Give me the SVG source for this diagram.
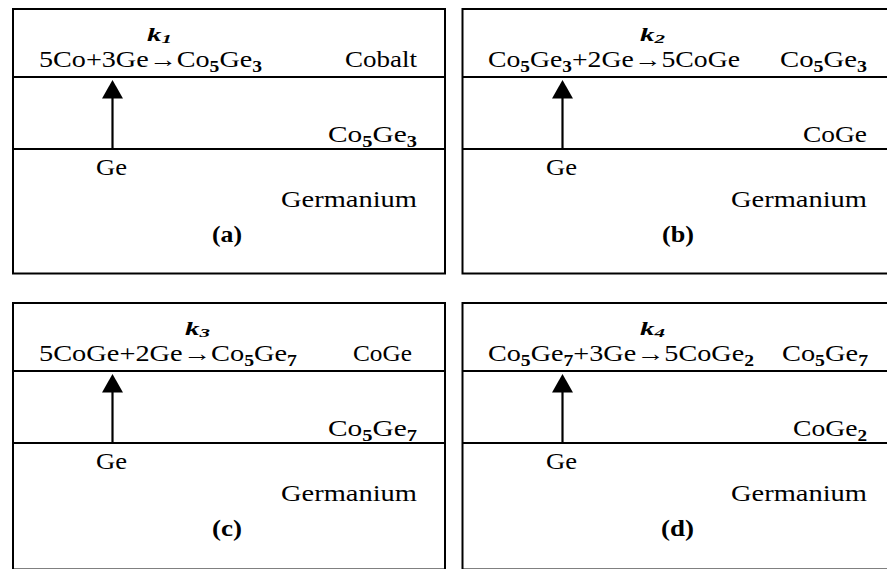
<svg xmlns="http://www.w3.org/2000/svg" width="887" height="569" viewBox="0 0 887 569">
  <defs>
    <style>
      .frame { fill: none; stroke: #000; stroke-width: 2; }
      .layer { stroke: #000; stroke-width: 2; }
      text { font-family: "Liberation Serif", "Times New Roman", serif; font-size: 23px; fill: #000; }
      .sub { font-size: 16px; font-weight: bold; }
      .k { font-size: 18px; font-weight: bold; font-style: italic; }
      .ksub { font-size: 13px; font-weight: bold; font-style: italic; }
      .tag { font-weight: bold; }
      .flux { stroke: #000; stroke-width: 2.2; fill: none; marker-end: url(#head); }
    </style>
    <marker id="head" markerUnits="userSpaceOnUse" markerWidth="19" markerHeight="21" viewBox="0 0 19 21" refX="0.5" refY="10.5" orient="auto">
      <path d="M0,0 L18.5,10.5 L0,21 Z" fill="#000"/>
    </marker>
  </defs>

  <!-- (a) Co + Ge -> Co5Ge3 -->
  <g id="panel-a">
    <rect class="frame" x="13" y="9" width="432" height="264.5"/>
    <line class="layer" x1="13" y1="77" x2="445" y2="77"/>
    <line class="layer" x1="13" y1="149" x2="445" y2="149"/>
    <text class="k" x="147" y="41" textLength="25" lengthAdjust="spacingAndGlyphs">k<tspan class="ksub" dy="2">1</tspan></text>
    <text x="39" y="67" textLength="223" lengthAdjust="spacingAndGlyphs">5Co+3Ge→Co<tspan class="sub" dy="5">5</tspan><tspan dy="-5">Ge</tspan><tspan class="sub" dy="5">3</tspan></text>
    <text x="345" y="67" textLength="72" lengthAdjust="spacingAndGlyphs">Cobalt</text>
    <text x="328" y="142" textLength="89" lengthAdjust="spacingAndGlyphs">Co<tspan class="sub" dy="5">5</tspan><tspan dy="-5">Ge</tspan><tspan class="sub" dy="5">3</tspan></text>
    <text x="96" y="175" textLength="31" lengthAdjust="spacingAndGlyphs">Ge</text>
    <text x="281" y="207" textLength="136" lengthAdjust="spacingAndGlyphs">Germanium</text>
    <text class="tag" x="212" y="242" textLength="30" lengthAdjust="spacingAndGlyphs">(a)</text>
  </g>

  <!-- (b) Co5Ge3 + Ge -> CoGe -->
  <g id="panel-b">
    <rect class="frame" x="462.5" y="9" width="432" height="264.5"/>
    <line class="layer" x1="462.5" y1="77" x2="895" y2="77"/>
    <line class="layer" x1="462.5" y1="149" x2="895" y2="149"/>
    <text class="k" x="640" y="41" textLength="25" lengthAdjust="spacingAndGlyphs">k<tspan class="ksub" dy="2">2</tspan></text>
    <text x="488" y="67" textLength="252" lengthAdjust="spacingAndGlyphs">Co<tspan class="sub" dy="5">5</tspan><tspan dy="-5">Ge</tspan><tspan class="sub" dy="5">3</tspan><tspan dy="-5">+2Ge→5CoGe</tspan></text>
    <text x="780" y="67" textLength="87" lengthAdjust="spacingAndGlyphs">Co<tspan class="sub" dy="5">5</tspan><tspan dy="-5">Ge</tspan><tspan class="sub" dy="5">3</tspan></text>
    <text x="803" y="142" textLength="64" lengthAdjust="spacingAndGlyphs">CoGe</text>
    <text x="546" y="175" textLength="31" lengthAdjust="spacingAndGlyphs">Ge</text>
    <text x="731" y="207" textLength="136" lengthAdjust="spacingAndGlyphs">Germanium</text>
    <text class="tag" x="662" y="242" textLength="32" lengthAdjust="spacingAndGlyphs">(b)</text>
  </g>

  <!-- (c) CoGe + Ge -> Co5Ge7 -->
  <g id="panel-c">
    <rect class="frame" x="13" y="303" width="432" height="266.5"/>
    <line class="layer" x1="13" y1="371" x2="445" y2="371"/>
    <line class="layer" x1="13" y1="443" x2="445" y2="443"/>
    <text class="k" x="185" y="335" textLength="25" lengthAdjust="spacingAndGlyphs">k<tspan class="ksub" dy="2">3</tspan></text>
    <text x="39" y="361" textLength="258" lengthAdjust="spacingAndGlyphs">5CoGe+2Ge→Co<tspan class="sub" dy="5">5</tspan><tspan dy="-5">Ge</tspan><tspan class="sub" dy="5">7</tspan></text>
    <text x="353" y="361" textLength="59" lengthAdjust="spacingAndGlyphs">CoGe</text>
    <text x="328" y="436" textLength="89" lengthAdjust="spacingAndGlyphs">Co<tspan class="sub" dy="5">5</tspan><tspan dy="-5">Ge</tspan><tspan class="sub" dy="5">7</tspan></text>
    <text x="96" y="469" textLength="31" lengthAdjust="spacingAndGlyphs">Ge</text>
    <text x="281" y="501" textLength="136" lengthAdjust="spacingAndGlyphs">Germanium</text>
    <text class="tag" x="212" y="536" textLength="30" lengthAdjust="spacingAndGlyphs">(c)</text>
  </g>

  <!-- (d) Co5Ge7 + Ge -> CoGe2 -->
  <g id="panel-d">
    <rect class="frame" x="462.5" y="303" width="432" height="266.5"/>
    <line class="layer" x1="462.5" y1="371" x2="895" y2="371"/>
    <line class="layer" x1="462.5" y1="443" x2="895" y2="443"/>
    <text class="k" x="640" y="335" textLength="25" lengthAdjust="spacingAndGlyphs">k<tspan class="ksub" dy="2">4</tspan></text>
    <text x="488" y="361" textLength="266" lengthAdjust="spacingAndGlyphs">Co<tspan class="sub" dy="5">5</tspan><tspan dy="-5">Ge</tspan><tspan class="sub" dy="5">7</tspan><tspan dy="-5">+3Ge→5CoGe</tspan><tspan class="sub" dy="5">2</tspan></text>
    <text x="782" y="361" textLength="86" lengthAdjust="spacingAndGlyphs">Co<tspan class="sub" dy="5">5</tspan><tspan dy="-5">Ge</tspan><tspan class="sub" dy="5">7</tspan></text>
    <text x="793" y="436" textLength="74" lengthAdjust="spacingAndGlyphs">CoGe<tspan class="sub" dy="5">2</tspan></text>
    <text x="546" y="469" textLength="31" lengthAdjust="spacingAndGlyphs">Ge</text>
    <text x="731" y="501" textLength="136" lengthAdjust="spacingAndGlyphs">Germanium</text>
    <text class="tag" x="661" y="536" textLength="33" lengthAdjust="spacingAndGlyphs">(d)</text>
  </g>

  <!-- Ge diffusion arrows through the growing layer -->
  <g id="connectors">
    <line class="flux" x1="112.5" y1="149" x2="112.5" y2="98"/>
    <line class="flux" x1="562.5" y1="149" x2="562.5" y2="98"/>
    <line class="flux" x1="112.5" y1="443" x2="112.5" y2="392"/>
    <line class="flux" x1="562.5" y1="443" x2="562.5" y2="392"/>
  </g>
</svg>
